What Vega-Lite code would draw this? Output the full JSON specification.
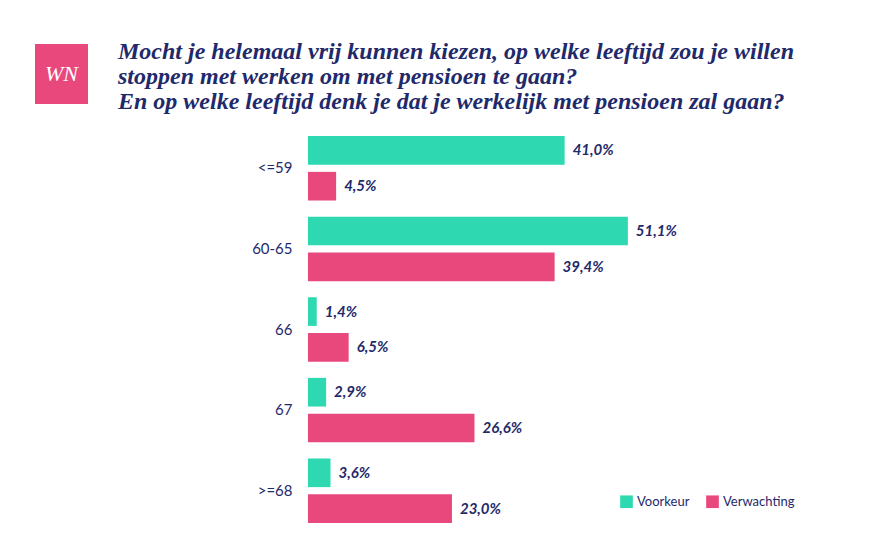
{
  "$schema": "https://vega.github.io/schema/vega-lite/v6.json",
  "background": "white",
  "padding": {"left": 35, "top": 40, "right": 10, "bottom": 10},
  "spacing": 18,
  "align": "none",
  "center": false,
  "config": {
    "locale": {"number": {"decimal": ",", "thousands": ".", "grouping": [3], "currency": ["€", ""]}},
    "font": "Lato",
    "concat": {"spacing": 30}
  },
  "vconcat": [
    {
      "hconcat": [
        {
          "width": 53,
          "height": 60,
          "view": {"fill": "#e8487c", "stroke": null},
          "data": {"values": [{"logo": "WN"}]},
          "mark": {"type": "text", "font": "Liberation Serif", "fontStyle": "italic", "fontSize": 22, "color": "white"},
          "encoding": {"text": {"field": "logo"}}
        },
        {
          "width": 720,
          "height": 60,
          "view": {"stroke": null},
          "data": {"values": [{"t": [
            "Mocht je helemaal vrij kunnen kiezen, op welke leeftijd zou je willen",
            "stoppen met werken om met pensioen te gaan?",
            "En op welke leeftijd denk je dat je werkelijk met pensioen zal gaan?"
          ]}]},
          "mark": {
            "type": "text", "align": "left", "baseline": "top", "x": 0, "y": -4,
            "font": "Liberation Serif", "fontSize": 24, "fontWeight": "bold", "fontStyle": "italic",
            "lineHeight": 25, "color": "#1f2a6b"
          },
          "encoding": {"text": {"field": "t"}}
        }
      ]
    },
    {
      "width": 745,
      "height": 395,
      "view": {"stroke": null},
      "data": {
        "values": [
          {"age": "<=59", "serie": "Voorkeur", "pct": 0.410},
          {"age": "<=59", "serie": "Verwachting", "pct": 0.045},
          {"age": "60-65", "serie": "Voorkeur", "pct": 0.511},
          {"age": "60-65", "serie": "Verwachting", "pct": 0.394},
          {"age": "66", "serie": "Voorkeur", "pct": 0.014},
          {"age": "66", "serie": "Verwachting", "pct": 0.065},
          {"age": "67", "serie": "Voorkeur", "pct": 0.029},
          {"age": "67", "serie": "Verwachting", "pct": 0.266},
          {"age": ">=68", "serie": "Voorkeur", "pct": 0.036},
          {"age": ">=68", "serie": "Verwachting", "pct": 0.230}
        ]
      },
      "encoding": {
        "y": {
          "field": "age", "type": "nominal", "sort": null, "title": null,
          "scale": {"paddingInner": 0.2, "paddingOuter": 0.05},
          "axis": {"domain": false, "ticks": false, "labelFontSize": 15, "labelColor": "#1f2a6b", "labelPadding": 16, "offset": -273}
        },
        "yOffset": {"field": "serie", "sort": ["Voorkeur", "Verwachting"], "scale": {"paddingInner": 0.2}},
        "x": {"field": "pct", "type": "quantitative", "axis": null, "scale": {"domain": [-0.436, 0.754], "nice": false, "zero": false}}
      },
      "layer": [
        {
          "mark": {"type": "bar"},
          "encoding": {
            "x2": {"datum": 0},
            "color": {
              "field": "serie", "type": "nominal",
              "scale": {"domain": ["Voorkeur", "Verwachting"], "range": ["#2ed8b0", "#e8487c"]},
              "legend": {
                "title": null, "orient": "none", "direction": "horizontal", "legendX": 585, "legendY": 451,
                "symbolType": "square", "symbolSize": 160, "symbolStrokeWidth": 0,
                "labelFontSize": 13, "labelColor": "#1f2a6b", "columnPadding": 16
              }
            }
          }
        },
        {
          "mark": {"type": "text", "align": "left", "dx": 8, "fontSize": 15, "fontWeight": "bold", "fontStyle": "italic", "color": "#1f2a6b"},
          "encoding": {"text": {"field": "pct", "type": "quantitative", "format": ".1%"}}
        }
      ]
    }
  ]
}
